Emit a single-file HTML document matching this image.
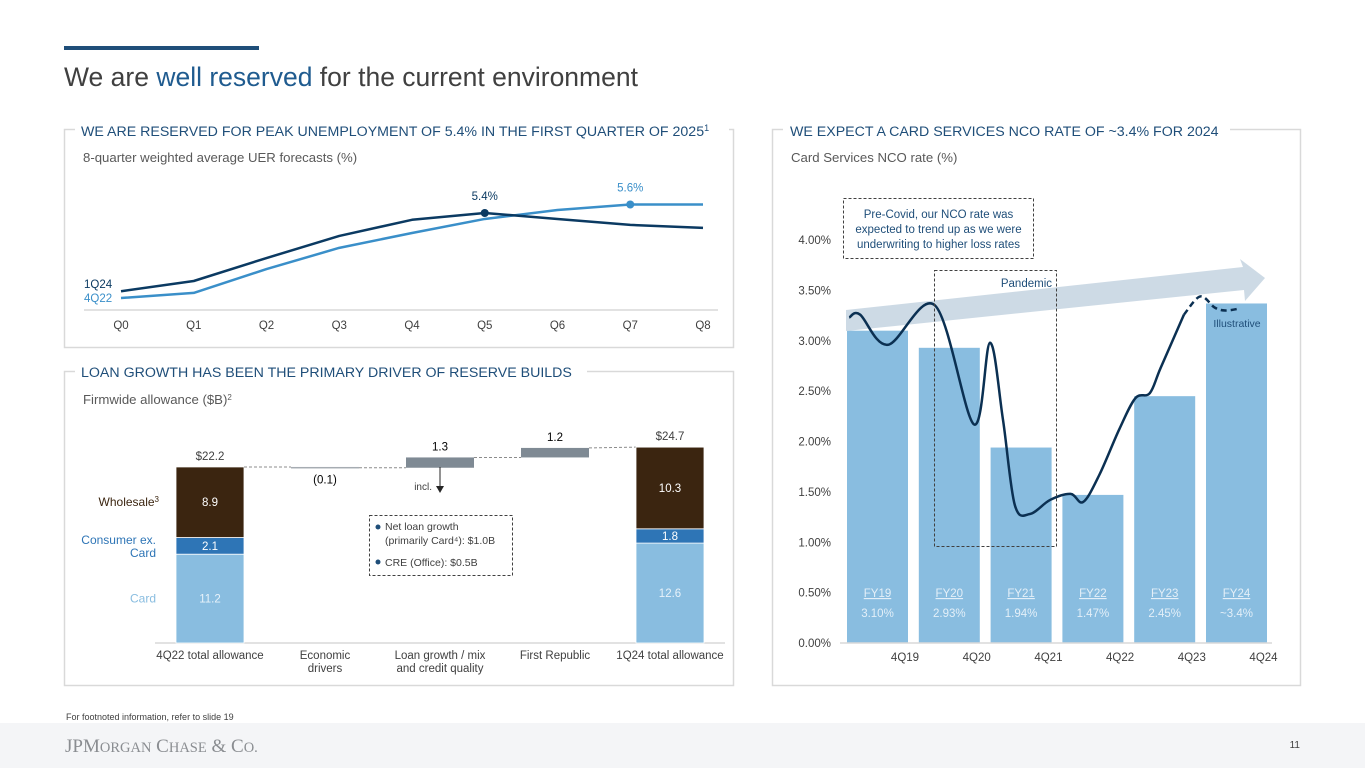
<!DOCTYPE html>
<html><head><meta charset="utf-8">
<style>
html,body{margin:0;padding:0;background:#fff;}
body{width:1365px;height:768px;overflow:hidden;font-family:"Liberation Sans",sans-serif;}
svg text{font-family:"Liberation Sans",sans-serif;}
</style></head>
<body>
<svg id="s" width="1365" height="768" viewBox="0 0 1365 768" xmlns="http://www.w3.org/2000/svg">
  <rect x="64" y="46" width="195" height="4" fill="#1f4e79"/>
  <text x="64" y="86" font-size="26.5" fill="#404040">We are <tspan fill="#1f5b8f">well reserved</tspan> for the current environment</text>

  <rect x="64.5" y="129.5" width="669" height="218" fill="none" stroke="#d9d9d9" stroke-width="1.5"/>
  <rect x="64.5" y="371.5" width="669" height="314" fill="none" stroke="#d9d9d9" stroke-width="1.5"/>
  <rect x="772.5" y="129.5" width="528" height="556" fill="none" stroke="#d9d9d9" stroke-width="1.5"/>

  <rect x="75" y="122" width="654" height="16" fill="#fff"/>
  <text x="81" y="136" font-size="14.2" fill="#1f4e79">WE ARE RESERVED FOR PEAK UNEMPLOYMENT OF 5.4% IN THE FIRST QUARTER OF 2025<tspan font-size="9" dy="-5">1</tspan></text>
  <text x="83" y="162" font-size="13.2" fill="#595959">8-quarter weighted average UER forecasts (%)</text>

  <rect x="75" y="364" width="512" height="16" fill="#fff"/>
  <text x="81" y="377" font-size="14.2" fill="#1f4e79">LOAN GROWTH HAS BEEN THE PRIMARY DRIVER OF RESERVE BUILDS</text>
  <text x="83" y="404" font-size="13.2" fill="#595959">Firmwide allowance ($B)<tspan font-size="8" dy="-4">2</tspan></text>

  <rect x="783" y="122" width="447" height="16" fill="#fff"/>
  <text x="790" y="136" font-size="14.2" fill="#1f4e79">WE EXPECT A CARD SERVICES NCO RATE OF ~3.4% FOR 2024</text>
  <text x="791" y="162" font-size="13.2" fill="#595959">Card Services NCO rate (%)</text>

  <g id="uer"></g>
  <g id="wf"></g>
  <g id="nco"></g>

  <text x="66" y="720" font-size="9" fill="#404040">For footnoted information, refer to slide 19</text>
  <rect x="0" y="723" width="1365" height="45" fill="#f4f5f7"/>
  <text x="65" y="752" font-size="19" fill="#8a8d91" style="font-family:'Liberation Serif',serif">JPM<tspan font-size="14.5">ORGAN</tspan> C<tspan font-size="14.5">HASE</tspan> &amp; C<tspan font-size="14.5">O.</tspan></text>
  <text x="1300" y="748" font-size="10" fill="#404040" text-anchor="end">11</text>
</svg>
<script>
const NS='http://www.w3.org/2000/svg';
function mk(parent,tag,attrs,txt){const e=document.createElementNS(NS,tag);for(const k in attrs)e.setAttribute(k,attrs[k]);if(txt!==undefined)e.textContent=txt;parent.appendChild(e);return e;}

/* ---------- UER line chart ---------- */
const uerQuarters=['Q0','Q1','Q2','Q3','Q4','Q5','Q6','Q7','Q8'];
const uer1Q24=[3.56,3.80,4.34,4.86,5.24,5.40,5.26,5.12,5.05];
const uer4Q22=[3.40,3.52,4.08,4.58,4.93,5.26,5.47,5.60,5.60];
(function(){
  const g=document.getElementById('uer');
  const x=i=>121+i*72.75, y=v=>213-(v-5.4)*42.5;
  let l=mk(g,'line',{x1:84,x2:718,y1:310,y2:310,stroke:'#d9d9d9','stroke-width':1.5});
  
  
  uerQuarters.forEach((q,i)=>{
    const t=mk(g,'text',{x:x(i),y:329,'font-size':11.5,fill:'#404040','text-anchor':'middle'},q);
    
    
  });
  const series=[[uer4Q22,'#3a8fc9','4q22'],[uer1Q24,'#0b3a62','1q24']];
  series.forEach(([d,c,n])=>{
    const p=mk(g,'polyline',{points:d.map((v,i)=>x(i)+','+y(v)).join(' '),fill:'none',stroke:c,'stroke-width':2.5,'stroke-linejoin':'round'});
    
    
  });
  let pk=uer1Q24.indexOf(Math.max(...uer1Q24));
  let c1=mk(g,'circle',{cx:x(pk),cy:y(uer1Q24[pk]),r:4,fill:'#0b3a62'});
  
  
  let t1=mk(g,'text',{x:x(pk),y:y(uer1Q24[pk])-13,'font-size':11.5,fill:'#0b3a62','text-anchor':'middle'},uer1Q24[pk].toFixed(1)+'%');
  
  
  let pk2=uer4Q22.indexOf(Math.max(...uer4Q22));
  let c2=mk(g,'circle',{cx:x(pk2),cy:y(uer4Q22[pk2]),r:4,fill:'#3a8fc9'});
  
  
  let t2=mk(g,'text',{x:x(pk2),y:y(uer4Q22[pk2])-13,'font-size':11.5,fill:'#3a8fc9','text-anchor':'middle'},uer4Q22[pk2].toFixed(1)+'%');
  
  
  let s1=mk(g,'text',{x:84,y:288,'font-size':11.5,fill:'#0b3a62'},'1Q24');
  
  
  let s2=mk(g,'text',{x:84,y:302,'font-size':11.5,fill:'#3a8fc9'},'4Q22');
  
  
})();

/* ---------- Waterfall ---------- */
const wfCategories=[['4Q22 total allowance'],['Economic','drivers'],['Loan growth / mix','and credit quality'],['First Republic'],['1Q24 total allowance']];
const wfStart=[11.2,2.1,8.9];
const wfSteps=[-0.1,1.3,1.2];
const wfStepLabels=['(0.1)','1.3','1.2'];
const wfEnd=[12.6,1.8,10.3];
const wfTotals=['$22.2','$24.7'];
const wfSegNames=['Card','Consumer ex. Card','Wholesale'];
(function(){
  const g=document.getElementById('wf');
  const base=643, k=7.93, cx=i=>210+i*115, bw=68;
  const y=v=>base-v*k;
  const cols=['#89bde0','#2e75b6','#3b2510'];
  let ax=mk(g,'line',{x1:155,x2:725,y1:base,y2:base,stroke:'#d9d9d9','stroke-width':1.5});
  
  
  function stack(vals,i,total,prefix){
    let acc=0;
    vals.forEach((v,j)=>{
      const r=mk(g,'rect',{x:cx(i)-bw/2,y:y(acc+v),width:bw,height:v*k,fill:cols[j],stroke:'#fff','stroke-width':0.8});
      
      
      const t=mk(g,'text',{x:cx(i),y:y(acc+v/2)+4,'font-size':11.5,fill:j==0?'#e8f2fa':'#fff','text-anchor':'middle'},v.toFixed(1));
      
      
      acc+=v;
    });
    const tt=mk(g,'text',{x:cx(i),y:y(acc)-7,'font-size':11.5,fill:'#404040','text-anchor':'middle'},total);
    
    
    return acc;
  }
  let level=stack(wfStart,0,wfTotals[0],'start-bar');
  let prevRight=cx(0)+bw/2;
  wfSteps.forEach((s,i)=>{
    const ci=i+1;
    const d=mk(g,'line',{x1:prevRight,x2:cx(ci)-bw/2,y1:y(level),y2:y(level),stroke:'#8c8c8c','stroke-dasharray':'3,2','stroke-width':1});
    
    
    const nl=level+s;
    const top=Math.min(y(level),y(nl)), h=Math.max(Math.abs(s*k),1.5);
    const r=mk(g,'rect',{x:cx(ci)-bw/2,y:top,width:bw,height:h,fill:s<0?'#a6acb2':'#7f8a94'});
    
    
    const ly=s<0?top+h+15:top-7;
    const t=mk(g,'text',{x:cx(ci),y:ly,'font-size':11.5,fill:'#000','text-anchor':'middle'},wfStepLabels[i]);
    
    
    level=nl; prevRight=cx(ci)+bw/2;
  });
  const endTotal=wfEnd.reduce((a,b)=>a+b,0);
  const d=mk(g,'line',{x1:prevRight,x2:cx(4)-bw/2,y1:y(level),y2:y(endTotal),stroke:'#8c8c8c','stroke-dasharray':'3,2','stroke-width':1});
  
  
  stack(wfEnd,4,wfTotals[1],'end-bar');
  wfCategories.forEach((lines,i)=>{
    lines.forEach((ln,j)=>{
      const t=mk(g,'text',{x:cx(i),y:659+j*13,'font-size':11.5,fill:'#404040','text-anchor':'middle'},ln);
      
      
    });
  });
  let a=0;const mids=[];wfStart.forEach(v=>{mids.push(y(a+v/2));a+=v;});
  let w=mk(g,'text',{x:159,y:mids[2]+4,'font-size':12,fill:'#3b2510','text-anchor':'end'});
  
  
  w.innerHTML='Wholesale<tspan font-size="8" dy="-4">3</tspan>';
  let c1=mk(g,'text',{x:156,y:544,'font-size':12,fill:'#2e75b6','text-anchor':'end'},'Consumer ex.');
  
  
  let c2=mk(g,'text',{x:156,y:557,'font-size':12,fill:'#2e75b6','text-anchor':'end'},'Card');
  
  
  let c3=mk(g,'text',{x:156,y:mids[0]+4,'font-size':12,fill:'#89bde0','text-anchor':'end'},'Card');
  
  
  let ar=mk(g,'line',{x1:440,x2:440,y1:467,y2:487,stroke:'#262626','stroke-width':1});
  
  
  let ah=mk(g,'polygon',{points:'436,486 444,486 440,493',fill:'#262626'});
  
  
  let it=mk(g,'text',{x:432,y:490,'font-size':10,fill:'#404040','text-anchor':'end'},'incl.');
  
  
  let bx=mk(g,'rect',{x:369.5,y:515.5,width:143,height:60,fill:'#fff',stroke:'#404040','stroke-dasharray':'3,2','stroke-width':1});
  
  
  [[530,'Net loan growth'],[544,'(primarily Card⁴): $1.0B'],[566,'CRE (Office): $0.5B']].forEach((r,i)=>{
    const t=mk(g,'text',{x:385,y:r[0],'font-size':10.5,fill:'#404040'},r[1]);
    
    
  });
  [527,562].forEach((yy,i)=>{const c=mk(g,'circle',{cx:378,cy:yy,r:2.5,fill:'#1f4e79'});
    
    });
})();

/* ---------- NCO chart ---------- */
const ncoYears=['FY19','FY20','FY21','FY22','FY23','FY24'];
const ncoRates=[3.10,2.93,1.94,1.47,2.45,3.37];
const ncoRateLabels=['3.10%','2.93%','1.94%','1.47%','2.45%','~3.4%'];
const ncoXTicks=['4Q19','4Q20','4Q21','4Q22','4Q23','4Q24'];
const ncoYTicks=[0,0.5,1,1.5,2,2.5,3,3.5,4];
const lineQuarter=[-0.1,0.5,2.05,4.67,6.83,7.72,8.44,9.1,9.94,11.06,12.2,12.9,13.8,14.9,15.8,16.6,17.2,18.5];
const lineValue=[3.23,3.26,2.96,3.35,2.17,2.98,2.22,1.37,1.28,1.42,1.48,1.40,1.67,2.12,2.43,2.48,2.73,3.26];
const dashQuarter=[18.5,19.4,20.2,20.8,21.6];
const dashValue=[3.26,3.44,3.33,3.30,3.32];
(function(){
  const g=document.getElementById('nco');
  const y=v=>643-v*100.75, bx=i=>847+i*71.8, bw=61, qx=q=>851+q*18;
  ncoYTicks.forEach(v=>{
    const t=mk(g,'text',{x:831,y:y(v)+4,'font-size':11.5,fill:'#404040','text-anchor':'end'},v.toFixed(2)+'%');
    
    
  });
  ncoYears.forEach((n,i)=>{
    const r=mk(g,'rect',{x:bx(i),y:y(ncoRates[i]),width:bw,height:ncoRates[i]*100.75,fill:'#89bde0'});
    
    
    const t=mk(g,'text',{x:bx(i)+bw/2,y:597,'font-size':11.5,fill:'#e3eff8','text-anchor':'middle','text-decoration':'underline'},n);
    
    
    const v=mk(g,'text',{x:bx(i)+bw/2,y:617,'font-size':11.5,fill:'#e3eff8','text-anchor':'middle'},ncoRateLabels[i]);
    
    
  });
  let ax=mk(g,'line',{x1:840,x2:1272,y1:643,y2:643,stroke:'#d9d9d9','stroke-width':1.5});
  
  
  ncoXTicks.forEach((q,i)=>{
    const t=mk(g,'text',{x:905+i*71.7,y:661,'font-size':11.5,fill:'#404040','text-anchor':'middle'},q);
    
    
  });
  let arr=mk(g,'polygon',{points:'846,310 1243,267 1240,259 1265,278 1245,301 1244,290 846,331',fill:'#c9d7e3','fill-opacity':0.92});
  
  
  function smooth(xs,vs){
    const P=xs.map((q,i)=>[qx(q),y(vs[i])]);
    let d='M'+P[0][0]+','+P[0][1];
    for(let i=0;i<P.length-1;i++){
      const p0=P[Math.max(0,i-1)],p1=P[i],p2=P[i+1],p3=P[Math.min(P.length-1,i+2)];
      const c1=[p1[0]+(p2[0]-p0[0])/6,p1[1]+(p2[1]-p0[1])/6],c2=[p2[0]-(p3[0]-p1[0])/6,p2[1]-(p3[1]-p1[1])/6];
      d+=' C'+c1.join(',')+' '+c2.join(',')+' '+p2.join(',');
    }
    return d;
  }
  let sl=mk(g,'path',{d:smooth(lineQuarter,lineValue),fill:'none',stroke:'#0b3052','stroke-width':2.5});
  
  
  let dl=mk(g,'path',{d:smooth(dashQuarter,dashValue),fill:'none',stroke:'#0b3052','stroke-width':2.5,'stroke-dasharray':'6,4'});
  
  
  let pb=mk(g,'rect',{x:934.5,y:270.5,width:122,height:276,fill:'none',stroke:'#404040','stroke-dasharray':'3,2','stroke-width':1});
  
  
  let pt=mk(g,'text',{x:1052,y:287,'font-size':11.5,fill:'#1f4e79','text-anchor':'end'},'Pandemic');
  
  
  let il=mk(g,'text',{x:1237,y:327,'font-size':10.5,fill:'#1f4e79','text-anchor':'middle'},'Illustrative');
  
  
  let cb=mk(g,'rect',{x:843.5,y:198.5,width:190,height:60,fill:'#fff',stroke:'#404040','stroke-dasharray':'3,2','stroke-width':1});
  
  
  ['Pre-Covid, our NCO rate was','expected to trend up as we were','underwriting to higher loss rates'].forEach((s,i)=>{
    const t=mk(g,'text',{x:938.5,y:218+i*15,'font-size':11.5,fill:'#1f4e79','text-anchor':'middle'},s);
    
    
  });
})();
</script>
</body></html>
